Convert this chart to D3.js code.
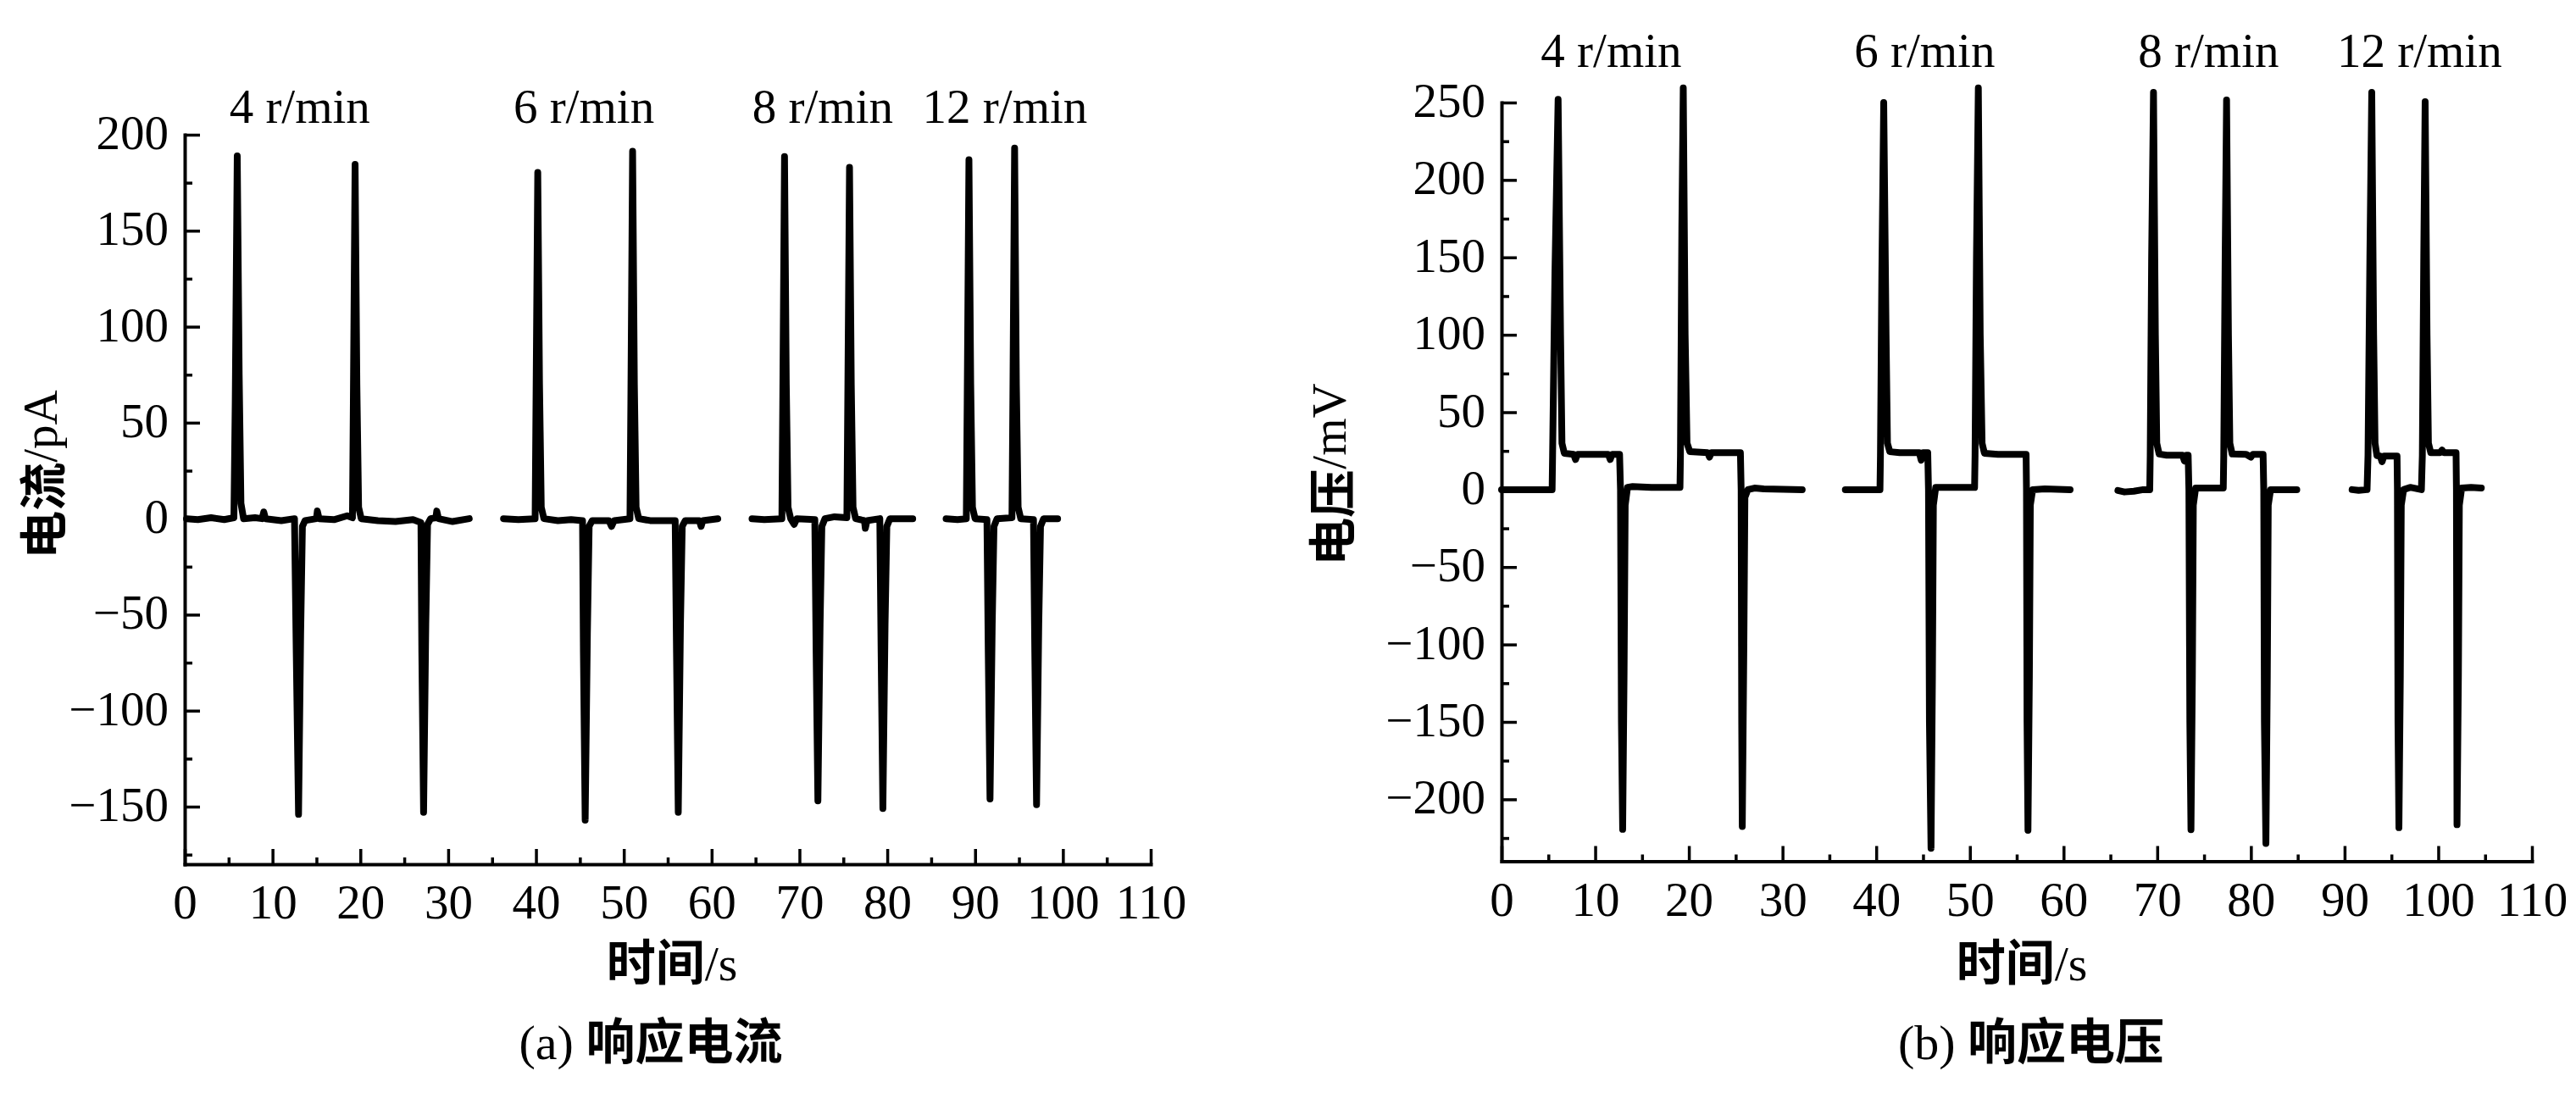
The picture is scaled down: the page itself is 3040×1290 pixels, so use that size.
<!DOCTYPE html>
<html><head><meta charset="utf-8">
<script src="https://cdn.jsdelivr.net/npm/d3@7"></script>
<style>html,body{margin:0;padding:0;background:#fff;} svg{display:block;}</style>
</head><body>
<svg id="chart" width="3040" height="1290"></svg>
<script>
// ---------------- DATA ----------------
// (a) response current, pA, [time s, value]
const currentSeg1 = [[0.2,0],[1.5,-0.5],[3,0.5],[4.5,-0.5],[5.6,0.5],[5.75,60],[5.98,189],[6.2,75],[6.4,8],[6.7,0],[8,0.5],[8.8,0],[9.0,3.5],[9.2,0],[11,-1],[12.5,0],[12.7,-70],[12.96,-154],[13.2,-60],[13.4,-4],[13.7,-1],[15,0],[15.1,4],[15.3,0],[17,-0.5],[18.5,1.5],[19.1,0.5],[19.2,60],[19.4,184.5],[19.6,70],[19.8,6],[20.1,0],[22,-1],[24,-1.5],[26,-0.5],[26.9,-2],[27.0,-70],[27.2,-153],[27.45,-55],[27.65,-3],[28,0],[28.6,0.5],[28.7,4],[28.9,0],[30.5,-1.5],[32.4,0]];
const currentSeg2 = [[36.3,0],[38,-0.5],[39.9,0],[40.0,60],[40.2,180.4],[40.4,70],[40.6,6],[40.9,0],[42.5,-1],[44,-0.5],[45.3,-1],[45.4,-70],[45.6,-157],[45.85,-60],[46.05,-4],[46.4,-1],[48.3,-1],[48.6,-4],[48.9,-1],[50.7,0],[50.8,60],[51.0,191.4],[51.2,70],[51.4,6],[51.7,0],[53,-1],[55.85,-1],[56.0,-70],[56.2,-153],[56.45,-55],[56.65,-4],[57,-1],[58.6,-1],[58.8,-4],[59,-1],[60.7,0]];
const currentSeg3 = [[64.6,0],[66,-0.5],[68.0,0],[68.1,60],[68.3,188.6],[68.5,70],[68.7,6],[69,0],[69.4,-3],[69.7,0],[71.75,-0.5],[71.9,-70],[72.1,-147],[72.35,-55],[72.55,-4],[72.9,0],[74,1],[75.4,0.5],[75.5,60],[75.7,183],[75.9,70],[76.1,6],[76.4,0],[77.4,-1],[77.5,-5],[77.7,-1],[79.15,0],[79.3,-70],[79.5,-151],[79.75,-55],[79.95,-4],[80.3,0],[82.9,0]];
const currentSeg4 = [[86.7,0],[88,-0.5],[89.0,0],[89.1,60],[89.3,187],[89.5,70],[89.7,6],[90,0],[91.35,-0.5],[91.5,-70],[91.7,-146],[91.95,-55],[92.15,-4],[92.5,0],[94.2,0.5],[94.3,60],[94.5,193],[94.7,70],[94.9,6],[95.2,0],[96.65,-0.5],[96.8,-70],[97.0,-149],[97.25,-55],[97.45,-4],[97.8,0],[99.4,0]];

// (b) response voltage, mV, [time s, value]
const voltageSeg1 = [[0,0],[3,0],[5.4,0],[5.45,22],[5.7,140],[6.04,252],[6.3,100],[6.45,30],[6.7,23.5],[7.7,22.8],[7.9,19.5],[8.1,22.8],[11.4,22.8],[11.6,19.5],[11.8,22.8],[12.6,22.8],[12.7,0],[12.8,-150],[12.93,-219.4],[13.08,-120],[13.2,-10],[13.45,1.5],[14,2],[16,1.5],[19.05,1.5],[19.1,22],[19.25,170],[19.4,259.5],[19.6,100],[19.8,30],[20.1,24.5],[22.0,23.9],[22.2,21],[22.4,23.9],[25.5,23.9],[25.58,0],[25.64,-150],[25.7,-217.6],[25.87,-100],[25.98,-5],[26.3,0],[27,1],[28,0.5],[32.1,0]];
const voltageSeg2 = [[36.7,0],[38.5,0],[40.4,0],[40.45,22],[40.6,140],[40.8,250],[41.05,100],[41.2,30],[41.45,24.5],[42.5,23.9],[44.6,23.9],[44.8,19],[45.0,23.9],[45.5,23.9],[45.58,0],[45.68,-150],[45.85,-231.6],[46.0,-120],[46.1,-10],[46.35,1.4],[48,1.4],[50.5,1.4],[50.55,22],[50.7,150],[50.9,259.4],[51.1,100],[51.3,30],[51.55,23.5],[53,22.8],[56.0,22.8],[56.04,0],[56.1,-150],[56.2,-220],[56.35,-120],[56.45,-10],[56.7,0],[58,0.5],[60.7,0]];
const voltageSeg3 = [[65.8,-0.5],[66.5,-1.5],[67.5,-1],[68.5,0],[69.2,0],[69.25,22],[69.4,150],[69.6,256.6],[69.8,100],[69.95,30],[70.2,23],[71,22.2],[72.7,22.2],[72.9,18.5],[73.1,22.2],[73.3,22.2],[73.38,0],[73.48,-150],[73.6,-219.6],[73.75,-120],[73.85,-10],[74.1,1],[76,1],[77.05,1],[77.1,22],[77.25,150],[77.4,251.7],[77.6,100],[77.75,30],[78.0,23],[79.5,22.8],[80.0,21],[80.2,22.8],[81.3,22.8],[81.37,0],[81.44,-150],[81.6,-228.5],[81.75,-120],[81.85,-10],[82.1,0],[84.9,0]];
const voltageSeg4 = [[90.8,0],[91.5,-0.5],[92.4,0],[92.5,22],[92.7,150],[92.9,256.6],[93.1,100],[93.25,30],[93.45,22],[93.8,21.7],[94.0,18],[94.2,21.7],[95.6,21.7],[95.64,0],[95.7,-150],[95.8,-218.3],[95.95,-120],[96.05,-10],[96.3,0],[97,1.5],[98.2,0],[98.3,22],[98.45,150],[98.6,250.6],[98.8,100],[98.95,30],[99.2,23.9],[100.2,23.9],[100.4,25.5],[100.6,23.9],[101.9,23.9],[101.94,0],[102.0,-216.4],[102.15,-120],[102.25,-10],[102.5,1],[103.5,1.5],[104.6,1]];

const speedLabels = ["4 r/min", "6 r/min", "8 r/min", "12 r/min"];
const xTicks = [0,10,20,30,40,50,60,70,80,90,100,110];
const xMinorTicks = [5,15,25,35,45,55,65,75,85,95,105];
const yTicksA = [-150,-100,-50,0,50,100,150,200];
const yMinorA = [-175,-125,-75,-25,25,75,125,175];
const yTicksB = [-200,-150,-100,-50,0,50,100,150,200,250];
const yMinorB = [-225,-175,-125,-75,-25,25,75,125,175,225];
const yTitleA = "电流/pA", yTitleB = "电压/mV", xTitle = "时间/s";
const captionA = "(a) 响应电流", captionB = "(b) 响应电压";

// ---------------- LAYOUT ----------------
const svg = d3.select("#chart");
svg.append("rect").attr("width",3040).attr("height",1290).attr("fill","#fff");
const SERIF = '"Liberation Serif","Times New Roman",serif';
const CJK = '"Noto Sans CJK SC","Noto Sans CJK JP",sans-serif';

const panels = [
  {segs:[currentSeg1,currentSeg2,currentSeg3,currentSeg4], xr:[218,1358], yd:[-180,200], yr:[1020,159],
   yt:yTicksA, ym:yMinorA, yTitle:yTitleA, yTitleX:47, yTitleY:560, labelT:[13.1,45.45,72.65,93.4], labelY:145,
   caption:captionA, capX:768, xTitleX:793},
  {segs:[voltageSeg1,voltageSeg2,voltageSeg3,voltageSeg4], xr:[1772,2988], yd:[-240,250], yr:[1016.5,121],
   yt:yTicksB, ym:yMinorB, yTitle:yTitleB, yTitleX:1568, yTitleY:560, labelT:[11.71,45.17,75.48,98.0], labelY:79,
   caption:captionB, capX:2397, xTitleX:2386}
];

function fmt(v){ return v < 0 ? "\u2212" + Math.abs(v) : String(v); }

function mixed(sel, str, cjkWeight){
  const parts = str.match(/[\u4e00-\u9fff]+|[^\u4e00-\u9fff]+/g);
  parts.forEach(p => {
    const isC = /[\u4e00-\u9fff]/.test(p);
    sel.append("tspan").text(p)
      .attr("font-family", isC ? CJK : SERIF)
      .attr("font-weight", isC ? cjkWeight : "normal");
  });
}

function styleAxis(g){
  g.attr("font-family", null).attr("font-size", null);
  g.select(".domain").attr("stroke","#000").attr("stroke-width",4).attr("stroke-linecap","square");
  g.selectAll(".tick line").attr("stroke","#000").attr("stroke-width",3.5);
  g.selectAll(".tick text").attr("font-family",SERIF).attr("font-size",57).attr("fill","#000");
}

panels.forEach(p => {
  const x = d3.scaleLinear().domain([0,110]).range(p.xr);
  const y = d3.scaleLinear().domain(p.yd).range(p.yr);
  const g = svg.append("g");

  // y axis (minor first, then major)
  const gym = g.append("g").attr("transform",`translate(${p.xr[0]},0)`)
    .call(d3.axisLeft(y).tickValues(p.ym).tickSize(-9).tickSizeOuter(0).tickFormat(""));
  gym.select(".domain").remove(); styleAxis(gym);
  const gy = g.append("g").attr("transform",`translate(${p.xr[0]},0)`)
    .call(d3.axisLeft(y).tickValues(p.yt).tickSize(-18).tickSizeOuter(0).tickPadding(19).tickFormat(fmt));
  styleAxis(gy);
  gy.selectAll(".tick text").attr("dy","0.29em");

  // x axis
  const x0y = y(p.yd[0]);
  const gxm = g.append("g").attr("transform",`translate(0,${x0y})`)
    .call(d3.axisBottom(x).tickValues(xMinorTicks).tickSize(-8).tickSizeOuter(0).tickFormat(""));
  gxm.select(".domain").remove(); styleAxis(gxm);
  const gx = g.append("g").attr("transform",`translate(0,${x0y})`)
    .call(d3.axisBottom(x).tickValues(xTicks).tickSize(-18).tickSizeOuter(0).tickPadding(24).tickFormat(d => String(d)));
  styleAxis(gx);

  // traces
  const line = d3.line().x(d => x(d[0])).y(d => y(d[1]));
  p.segs.forEach(s => {
    g.append("path").attr("d", line(s)).attr("fill","none").attr("stroke","#000")
      .attr("stroke-width",8).attr("stroke-linejoin","round").attr("stroke-linecap","round");
  });

  // speed labels
  speedLabels.forEach((t,i) => {
    g.append("text").attr("x", x(p.labelT[i])).attr("y", p.labelY)
      .attr("text-anchor","middle").attr("font-family",SERIF).attr("font-size",57).attr("fill","#000").text(t);
  });

  // axis titles
  const yt = g.append("text").attr("transform",`translate(${p.yTitleX},${p.yTitleY}) rotate(-90)`)
    .attr("text-anchor","middle").attr("dominant-baseline","central").attr("font-size",57).attr("fill","#000");
  mixed(yt, p.yTitle, "bold");
  const xt = g.append("text").attr("x", p.xTitleX).attr("y",1157)
    .attr("text-anchor","middle").attr("font-size",58).attr("fill","#000");
  mixed(xt, xTitle, "bold");
  const cap = g.append("text").attr("x", p.capX).attr("y",1250)
    .attr("text-anchor","middle").attr("font-size",58).attr("fill","#000");
  mixed(cap, p.caption, "bold");
});
</script>
</body></html>
